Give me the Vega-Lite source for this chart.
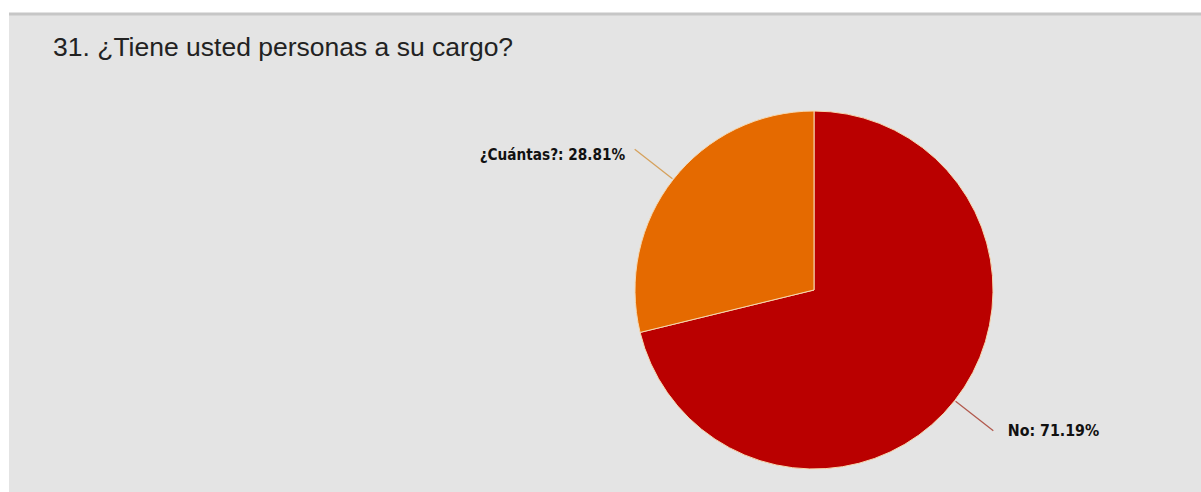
{
  "$schema": "https://vega.github.io/schema/vega-lite/v6.json",
  "width": 1192,
  "height": 478,
  "autosize": "none",
  "padding": {"left": 9, "top": 14, "right": 0, "bottom": 0},
  "background": "#ffffff",
  "view": {"fill": "#e4e4e4", "stroke": "#c6c6c6", "strokeWidth": 3, "strokeDash": [1192, 3000]},
  "title": {
    "text": "31. ¿Tiene usted personas a su cargo?",
    "anchor": "start",
    "orient": "top",
    "frame": "group",
    "offset": -68,
    "baseline": "alphabetic",
    "dx": 44,
    "font": "Liberation Sans",
    "fontSize": 26.5,
    "fontWeight": "normal",
    "color": "#222222"
  },
  "data": {
    "values": [
      {"cat": "No", "value": 71.19, "label": "No: 71.19%"},
      {"cat": "¿Cuántas?", "value": 28.81, "label": "¿Cuántas?: 28.81%"}
    ]
  },
  "layer": [
    {
      "mark": {"type": "arc", "x": 805, "y": 276, "radius": 179, "stroke": "#f6d8b0", "strokeWidth": 1},
      "encoding": {
        "theta": {"field": "value", "type": "quantitative", "stack": true},
        "order": {"field": "cat", "type": "nominal", "sort": "ascending"},
        "color": {
          "field": "cat",
          "type": "nominal",
          "scale": {"domain": ["No", "¿Cuántas?"], "range": ["#ba0000", "#e56a00"]},
          "legend": null
        }
      }
    },
    {
      "transform": [
        {"stack": "value", "groupby": [], "sort": [{"field": "cat", "order": "ascending"}], "as": ["v0", "v1"]},
        {"fold": ["v0", "v1"], "as": ["edge", "pos"]},
        {"aggregate": [{"op": "mean", "field": "pos", "as": "mid"}], "groupby": ["cat", "label"]}
      ],
      "layer": [
        {
          "mark": {"type": "arc", "x": 805, "y": 276, "fill": "transparent", "strokeWidth": 1.3},
          "encoding": {
            "theta": {"field": "mid", "type": "quantitative", "stack": null},
            "theta2": {"field": "mid"},
            "radius": {"value": 228},
            "radius2": {"value": 180},
            "stroke": {
              "field": "cat",
              "type": "nominal",
              "scale": {"domain": ["No", "¿Cuántas?"], "range": ["#b25a4e", "#d6a25e"]},
              "legend": null
            }
          }
        },
        {
          "transform": [{"filter": "datum.cat === 'No'"}],
          "mark": {"type": "text", "x": 805, "y": 276, "align": "left", "baseline": "middle", "dx": 5, "dy": -7, "font": "DejaVu Sans Condensed", "fontWeight": "bold", "fontSize": 15.8, "color": "#111111"},
          "encoding": {
            "theta": {"field": "mid", "type": "quantitative", "stack": null},
            "radius": {"value": 240},
            "text": {"field": "label", "type": "nominal"}
          }
        },
        {
          "transform": [{"filter": "datum.cat !== 'No'"}],
          "mark": {"type": "text", "x": 805, "y": 276, "align": "right", "baseline": "middle", "dx": 0, "dy": 13, "font": "DejaVu Sans Condensed", "fontWeight": "bold", "fontSize": 15.2, "color": "#111111"},
          "encoding": {
            "theta": {"field": "mid", "type": "quantitative", "stack": null},
            "radius": {"value": 240},
            "text": {"field": "label", "type": "nominal"}
          }
        }
      ]
    }
  ]
}
